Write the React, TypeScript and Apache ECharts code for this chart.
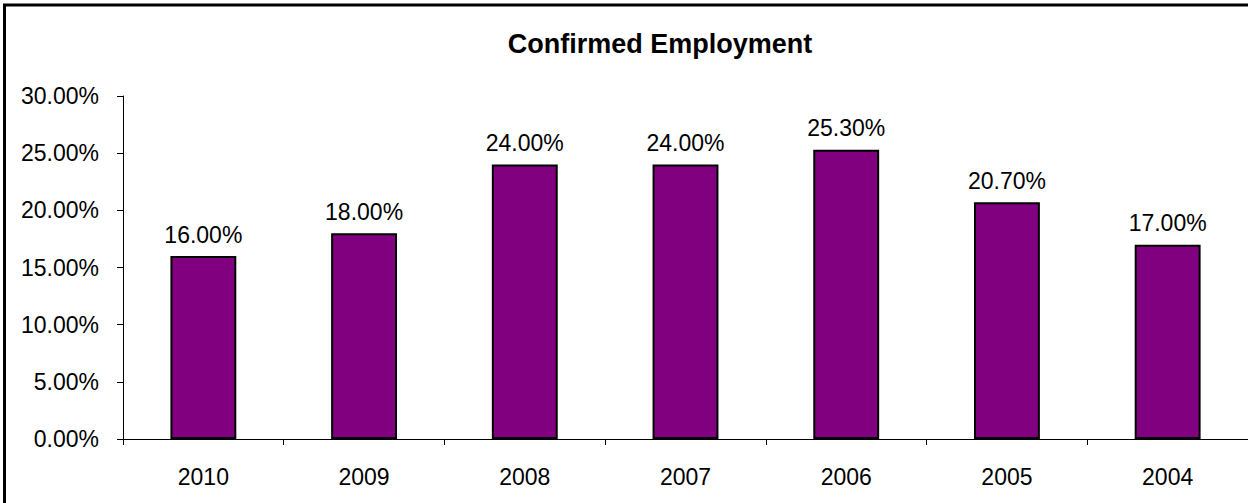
import React, { useEffect, useRef } from "react";
import * as echarts from "echarts";

const categories = ["2010", "2009", "2008", "2007", "2006", "2005", "2004"];
const values = [16.0, 18.0, 24.0, 24.0, 25.3, 20.7, 17.0];
const titleText = "Confirmed Employment";

export default function App() {
  const ref = useRef<HTMLDivElement>(null);
  useEffect(() => {
    if (!ref.current) return;
    const chart = echarts.init(ref.current, null, { renderer: "svg" });
    const font = "Liberation Sans, Arial, sans-serif";
    chart.setOption({
      animation: false,
      backgroundColor: "#ffffff",
      grid: { left: 123, top: 96, bottom: 64, width: 1132, containLabel: false },
      xAxis: {
        type: "category",
        data: categories,
        boundaryGap: true,
        axisLine: { show: true, lineStyle: { color: "#000", width: 1 } },
        axisTick: { show: true, length: 6, alignWithLabel: false, lineStyle: { color: "#000" } },
        axisLabel: { fontFamily: font, fontSize: 23, color: "#000", margin: 26 },
      },
      yAxis: {
        type: "value",
        min: 0,
        max: 30,
        interval: 5,
        splitLine: { show: false },
        axisLine: { show: true, lineStyle: { color: "#000", width: 1 } },
        axisTick: { show: true, length: 6, lineStyle: { color: "#000" } },
        axisLabel: {
          fontFamily: font,
          fontSize: 23,
          color: "#000",
          margin: 24,
          formatter: (v: number) => v.toFixed(2) + "%",
        },
      },
      series: [
        {
          type: "bar",
          data: values,
          barWidth: "41%",
          itemStyle: { color: "#800080", borderColor: "#000", borderWidth: 2 },
          label: {
            show: true,
            position: "top",
            distance: 10,
            fontFamily: font,
            fontSize: 23,
            color: "#000",
            formatter: (p: any) => Number(p.value).toFixed(2) + "%",
          },
        },
      ],
      graphic: [
        {
          type: "rect",
          shape: { x: 4.5, y: 5, width: 1400, height: 700 },
          style: { fill: "none", stroke: "#000", lineWidth: 3 },
          silent: true,
        },
        {
          type: "text",
          x: 660,
          y: 44,
          style: {
            text: titleText,
            textAlign: "center",
            textVerticalAlign: "middle",
            fontFamily: font,
            fontSize: 27,
            fontWeight: "bold",
            fill: "#000",
          },
          silent: true,
        },
      ],
    });
    return () => chart.dispose();
  }, []);
  return (
    <div
      ref={ref}
      style={{ position: "absolute", left: 0, top: 0, width: 1248, height: 503, overflow: "hidden" }}
    />
  );
}
